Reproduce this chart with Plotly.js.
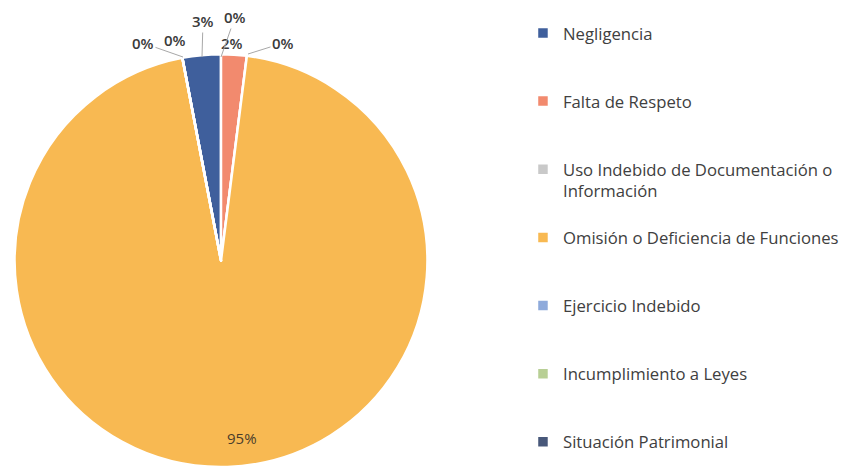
<!DOCTYPE html>
<html><head><meta charset="utf-8">
<script src="https://cdn.plot.ly/plotly-3.0.1.min.js"></script>
<style>html,body{margin:0;padding:0;background:#fff}</style>
</head><body>
<div id="chart" style="width:864px;height:467px"></div>
<script>
const categories = [
  "Negligencia",
  "Falta de Respeto",
  "Uso Indebido de Documentación o Información",
  "Omisión o Deficiencia de Funciones",
  "Ejercicio Indebido",
  "Incumplimiento a Leyes",
  "Situación Patrimonial"
];
const legendLabels = [
  "Negligencia",
  "Falta de Respeto",
  "Uso Indebido de Documentación o<br>Información",
  "Omisión o Deficiencia de Funciones",
  "Ejercicio Indebido",
  "Incumplimiento a Leyes",
  "Situación Patrimonial"
];
const percentValues = [3, 2, 0, 95, 0, 0, 0];
const sliceColors = ["#3f5f9c", "#f28a6e", "#c9c9c9", "#f8b952", "#8eaadb", "#b8cf95", "#48587a"];

// pad each legend label so items are evenly spaced (marker stays on the first text line)
const paddedLabels = legendLabels.map(l => l.includes("<br>") ? " <br>" + l : " <br>" + l + "<br> ");

const trace = {
  type: "pie",
  labels: paddedLabels,
  values: percentValues,
  customdata: categories,
  sort: false,
  direction: "clockwise",
  rotation: -10.8,
  marker: {colors: sliceColors, line: {color: "#ffffff", width: 2.5}},
  textposition: "none",
  hovertemplate: "%{customdata}: %{value}%<extra></extra>",
  domain: {x: [0.0168, 0.4948], y: [0, 0.884]},
  automargin: false
};

// data-label placement (Excel-style labels with leader lines), in pixels of the 864x467 page
const W = 864, H = 467;
const labelPlacement = [
  {tx: 203, ty: 21, px: 202, py: 57, line: true},   // Negligencia
  {tx: 232, ty: 43, line: false},                   // Falta de Respeto
  {tx: 283, ty: 43, px: 248, py: 54, line: true},   // Uso Indebido
  {tx: 242, ty: 438, line: false, inside: true},    // Omisión
  {tx: 235, ty: 17, px: 221, py: 57, line: true},   // Ejercicio Indebido
  {tx: 175, ty: 40, line: false},                   // Incumplimiento
  {tx: 143, ty: 43, px: 183, py: 57, line: true}    // Situación Patrimonial
];

const annotations = labelPlacement.map((p, i) => {
  const a = {
    text: percentValues[i] + "%",
    xref: "paper", yref: "paper",
    font: p.inside
      ? {family: "Open Sans, sans-serif", size: 15, weight: 400, color: "#4a3d2c"}
      : {family: "Open Sans, sans-serif", size: 15, weight: 600, color: "#3a3a3a"},
    xanchor: "center", yanchor: "middle"
  };
  if (p.line) {
    a.x = p.px / W; a.y = 1 - p.py / H;
    a.showarrow = true; a.arrowhead = 0; a.arrowwidth = 1; a.arrowcolor = "#a8a8a8";
    a.ax = p.tx - p.px; a.ay = p.ty - p.py;
  } else {
    a.x = p.tx / W; a.y = 1 - p.ty / H; a.showarrow = false;
  }
  return a;
});

const layout = {
  width: W, height: H,
  margin: {l: 0, r: 0, t: 0, b: 0, autoexpand: false},
  paper_bgcolor: "#ffffff",
  showlegend: true,
  annotations: annotations,
  legend: {
    x: 0.6053, y: 1.013, xanchor: "left", yanchor: "top",
    font: {family: "Open Sans, sans-serif", size: 16.7, color: "#404040"},
    bgcolor: "rgba(0,0,0,0)", borderwidth: 0,
    maxheight: 1000
  }
};

Plotly.newPlot("chart", [trace], layout, {displayModeBar: false, staticPlot: true});
</script>
</body></html>
